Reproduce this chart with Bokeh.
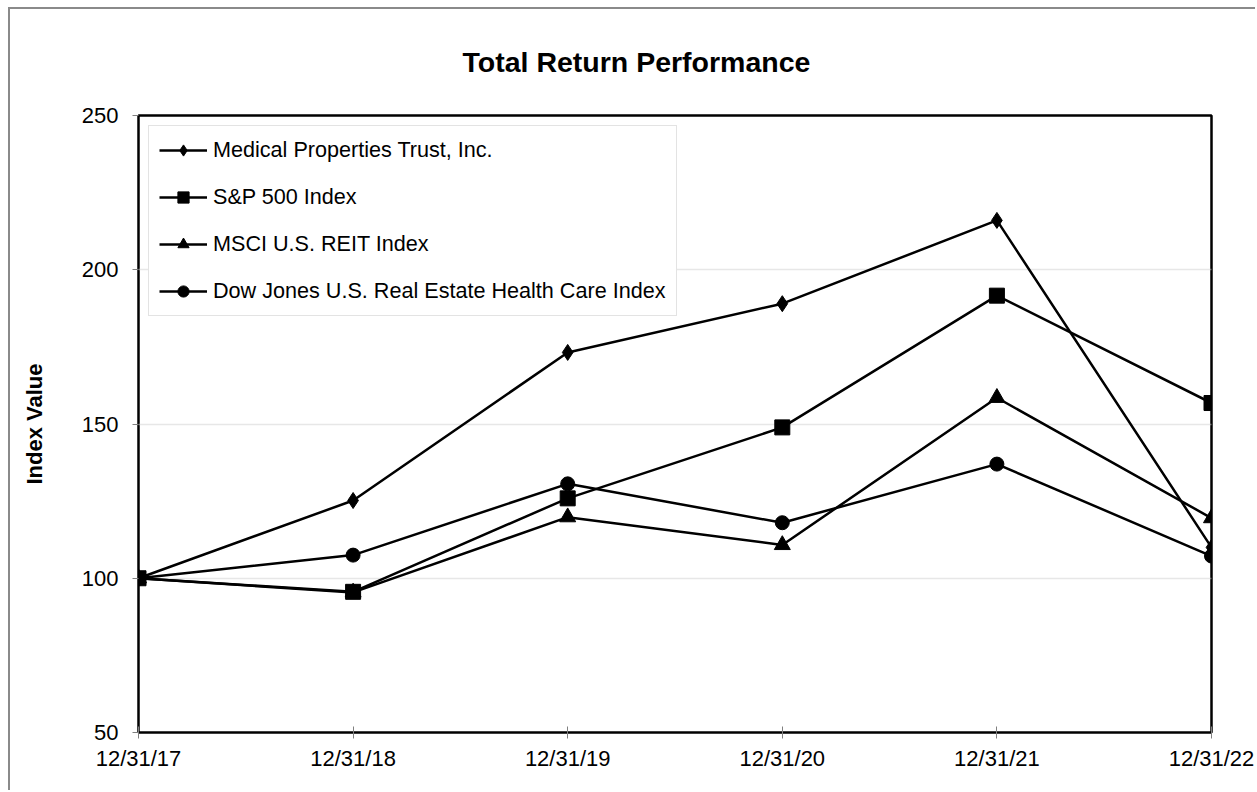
from bokeh.plotting import figure
from bokeh.models import Range1d, FixedTicker, Legend, LegendItem
from bokeh.embed import file_html
from bokeh.resources import INLINE

# ---- data ----
dates = ["12/31/17", "12/31/18", "12/31/19", "12/31/20", "12/31/21", "12/31/22"]
series_names = [
    "Medical Properties Trust, Inc.",
    "S&P 500 Index",
    "MSCI U.S. REIT Index",
    "Dow Jones U.S. Real Estate Health Care Index",
]
mpt = [100, 125.2, 173.2, 189.0, 216.0, 110.0]
sp500 = [100, 95.6, 125.9, 148.9, 191.6, 156.8]
msci_reit = [100, 95.4, 119.8, 110.8, 158.5, 119.5]
dj_health = [100, 107.5, 130.6, 118.0, 137.0, 107.2]
y_ticks = [50, 100, 150, 200, 250]

FONT = "Liberation Sans"
xs = list(range(len(dates)))

p = figure(width=1247, height=783, output_backend="svg", toolbar_location=None,
           x_range=Range1d(0, len(dates) - 1), y_range=Range1d(50, 250),
           min_border_left=128, min_border_right=46, min_border_top=106,
           min_border_bottom=60)
p.styles = {"border-left": "2px solid #8a8a8a", "border-top": "2px solid #8a8a8a",
            "margin-left": "8px", "margin-top": "7px"}

p.background_fill_color = "white"
p.border_fill_color = "white"
p.outline_line_color = "black"
p.outline_line_width = 2.5

# title
p.title.text = "Total Return Performance"
p.title.text_font = FONT
p.title.text_font_size = "28.5px"
p.title.text_font_style = "bold"
p.title.text_color = "black"
p.title.align = "left"
p.title.offset = 324
p.title.vertical_align = "top"
p.title.standoff = 72

# axes
main_x = p.below[0]
main_x.ticker = FixedTicker(ticks=xs)
main_x.major_label_overrides = {i: d for i, d in enumerate(dates)}
p.yaxis.ticker = FixedTicker(ticks=y_ticks)
for ax in (main_x, p.yaxis[0]):
    ax.axis_line_color = None
    ax.major_tick_line_color = "#808080"
    ax.major_tick_line_width = 1
    ax.minor_tick_line_color = None
    ax.major_label_text_font = FONT
    ax.major_label_text_font_size = "22px"
    ax.major_label_text_color = "black"
main_x.major_tick_in = 6
main_x.major_tick_out = 6
main_x.major_label_standoff = 7
p.yaxis.major_tick_in = 0
p.yaxis.major_tick_out = 6
p.yaxis.major_label_standoff = 14
p.yaxis.axis_label = "Index Value"
p.yaxis.axis_label_text_font = FONT
p.yaxis.axis_label_text_font_size = "22px"
p.yaxis.axis_label_text_font_style = "bold"
p.yaxis.axis_label_text_color = "black"
p.yaxis.axis_label_standoff = 32

p.xgrid.grid_line_color = None
p.ygrid.ticker = FixedTicker(ticks=[100, 150, 200])
p.ygrid.grid_line_color = "#cfcfcf"
p.ygrid.grid_line_width = 1.5
p.ygrid.grid_line_dash = "1 1"

styles = [
    (mpt, "diamond", 16),
    (sp500, "square", 15),
    (msci_reit, "triangle", 16),
    (dj_health, "circle", 14),
]

items = []
for name, (vals, marker, size) in zip(series_names, styles):
    lr = p.line(xs, vals, line_color="black", line_width=2.5)
    sr = p.scatter(xs, vals, marker=marker, size=size, fill_color="black",
                   line_color="black")
    items.append(LegendItem(label=name, renderers=[lr, sr]))

legend = Legend(items=items, location="top_left", margin=10, padding=10,
                spacing=19, glyph_height=28, glyph_width=48, label_standoff=6,
                label_text_font=FONT, label_text_font_size="21.6px",
                label_text_color="black", border_line_color="#c8c8c8",
                border_line_width=1.5, background_fill_color="white",
                background_fill_alpha=1.0)
p.add_layout(legend, "center")

open("out.html", "w").write(file_html(p, INLINE))
